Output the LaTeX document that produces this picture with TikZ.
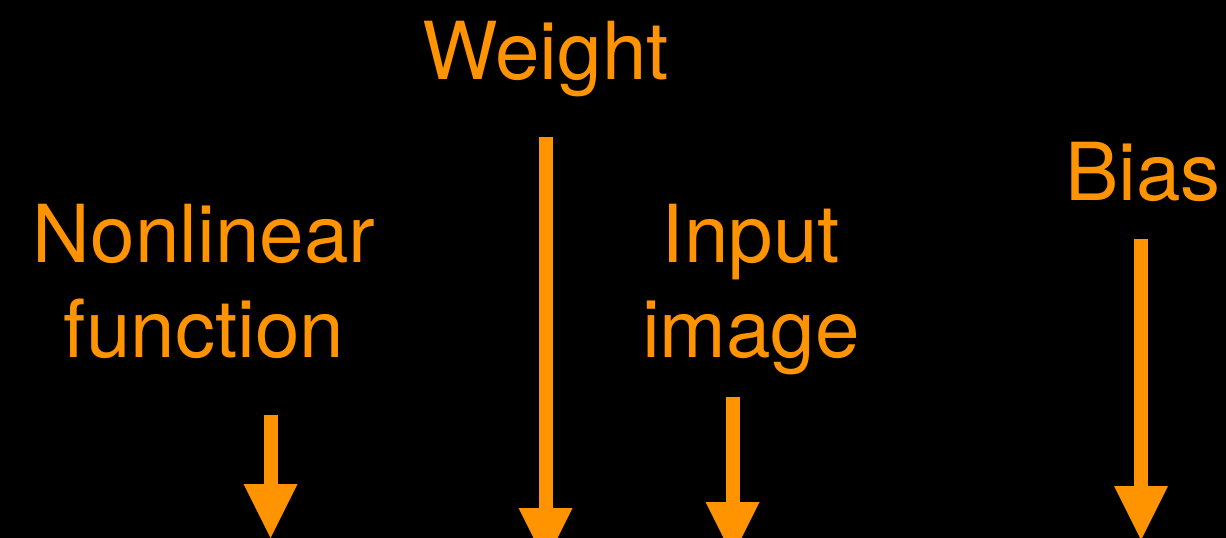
\documentclass[tikz,border=0pt]{standalone}
\usepackage{fontspec}
\setmainfont{TeX Gyre Heros}
\usetikzlibrary{arrows.meta}
\definecolor{tangerine}{RGB}{255,147,0}

\tikzset{every picture/.style={line width=0.75pt}}
\tikzset{
  tag text/.style={text=tangerine, inner sep=0.75pt, anchor=base, align=center, font=\fontsize{60}{71.25}\selectfont},
  fat arrow/.style={draw=tangerine, line width=10.5pt, -{Triangle[width=40.5pt,length=40.5pt,line width=0pt]}},
}

\begin{document}
\begin{tikzpicture}[x=0.75pt,y=0.75pt,yscale=-1,xscale=1]
            %set diagram from (0,0) to (1226,538)
            \useasboundingbox (0,0) rectangle (1226,538);
            \fill [black] (0,0) rectangle (1226,538);
            \clip (0,0) rectangle (1226,538);

            % Text Node
            \node [tag text] (weight) at (545.5,80) {Weight};
            % Text Node (base = last line)
            \node [tag text] (nonlinear) at (204,357) {Nonlinear\\function};
            % Text Node (base = last line)
            \node [tag text] (input) at (751,357) {Input\\image};
            % Text Node
            \node [tag text] (bias) at (1143,201) {Bias};

            %Straight Lines
            \coordinate (nonlinear top) at (270.5,415);
            \coordinate (nonlinear tip) at (270.5,538);
            \draw [fat arrow] (nonlinear top) -- (nonlinear tip);
            %Straight Lines
            \coordinate (weight top) at (545.5,137);
            \coordinate (weight tip) at (545.5,562);
            \draw [fat arrow] (weight top) -- (weight tip);
            %Straight Lines
            \coordinate (input top) at (732.5,397);
            \coordinate (input tip) at (732.5,556);
            \draw [fat arrow] (input top) -- (input tip);
            %Straight Lines
            \coordinate (bias top) at (1141,239);
            \coordinate (bias tip) at (1141,540);
            \draw [fat arrow] (bias top) -- (bias tip);

        \end{tikzpicture}
\end{document}
